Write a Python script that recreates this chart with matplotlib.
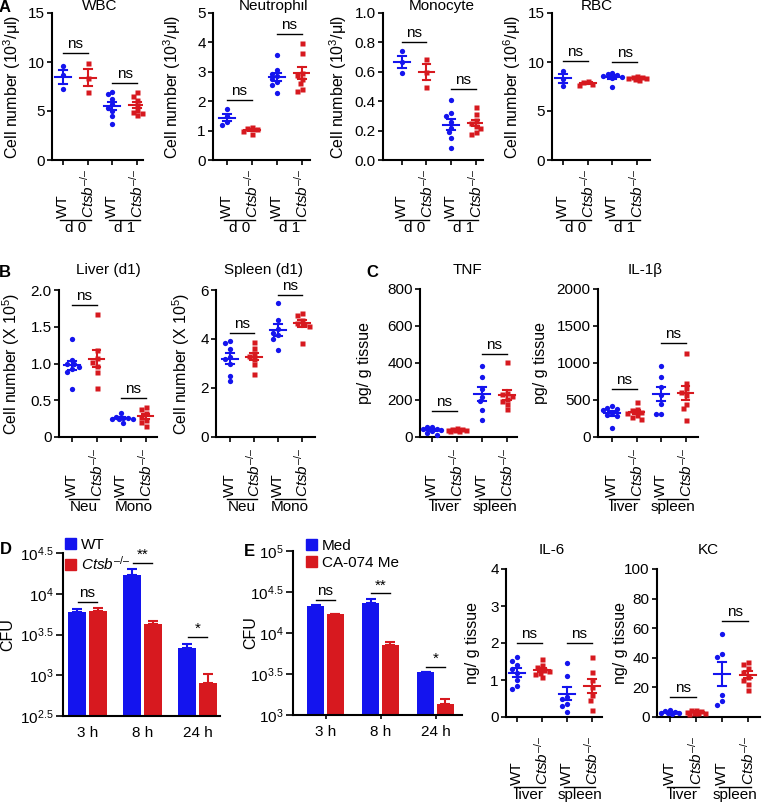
import numpy as np
import matplotlib
matplotlib.use('Agg')
import matplotlib.pyplot as plt
from matplotlib.patches import Patch

plt.rcParams['font.family'] = ['Liberation Sans', 'DejaVu Sans']
plt.rcParams['mathtext.fontset'] = 'custom'
plt.rcParams['mathtext.rm'] = 'Liberation Sans'
plt.rcParams['mathtext.it'] = 'Liberation Sans:italic'
plt.rcParams['font.size'] = 11

BLUE = '#1414ee'
RED = '#d7191f'
KO = '$\\it{Ctsb}^{–/–}$'
FS = 11

# ---- data ----
# A: blood counts (WT d0, KO d0, WT d1, KO d1)
wbc = [[9.6, 8.7, 7.2], [9.9, 8.4, 6.9],
       [6.9, 6.7, 6.2, 5.7, 5.3, 5.0, 4.5, 3.7],
       [6.9, 6.55, 6.1, 5.6, 5.1, 4.85, 4.8, 4.6]]
neutro = [[1.75, 1.5, 1.3, 1.2], [1.12, 1.08, 1.05, 1.0, 0.88],
          [3.58, 3.05, 2.94, 2.85, 2.77, 2.66, 2.55, 2.28],
          [3.98, 3.64, 2.96, 2.88, 2.77, 2.62, 2.43, 2.34]]
mono = [[0.74, 0.67, 0.59], [0.69, 0.60, 0.50],
        [0.41, 0.32, 0.30, 0.26, 0.22, 0.19, 0.15, 0.08],
        [0.36, 0.31, 0.27, 0.25, 0.23, 0.22, 0.19, 0.18]]
rbc = [[9.1, 8.3, 7.6], [8.1, 7.95, 7.8, 7.7],
       [8.9, 8.8, 8.7, 8.6, 8.5, 8.4, 7.5],
       [8.6, 8.5, 8.45, 8.4, 8.35, 8.3, 8.2]]
# B: cell numbers in liver / spleen (WT Neu, KO Neu, WT Mono, KO Mono)
liver = [[1.33, 1.05, 1.0, 0.99, 0.95, 0.93, 0.89, 0.65],
         [1.67, 1.18, 1.07, 1.02, 0.96, 0.89, 0.66],
         [0.32, 0.27, 0.26, 0.255, 0.25, 0.245, 0.24, 0.19],
         [0.41, 0.38, 0.32, 0.27, 0.23, 0.20, 0.15]]
spleen = [[3.93, 3.85, 3.6, 3.27, 3.2, 3.0, 2.48, 2.29],
          [3.89, 3.64, 3.41, 3.3, 3.2, 2.97, 2.59],
          [5.46, 4.77, 4.39, 4.23, 4.16, 4.02, 3.55],
          [5.07, 4.98, 4.77, 4.64, 4.6, 4.53, 3.85]]
# C: cytokines (WT liver, KO liver, WT spleen, KO spleen)
tnf = [[55, 52, 45, 42, 38, 30, 22, 10], [48, 45, 42, 40, 38, 36, 34, 30],
       [385, 326, 262, 217, 195, 145, 94],
       [407, 240, 230, 220, 205, 195, 180, 150]]
il1b = [[416, 398, 380, 362, 326, 294, 280, 127],
        [475, 380, 362, 340, 320, 300, 271, 249],
        [964, 814, 679, 566, 452, 317, 308],
        [1131, 724, 656, 611, 566, 452, 398, 226]]
il6 = [[1.61, 1.52, 1.40, 1.31, 1.18, 1.0, 0.83, 0.77],
       [1.56, 1.40, 1.34, 1.28, 1.25, 1.2, 1.16, 1.07],
       [1.47, 1.1, 0.54, 0.50, 0.36, 0.29, 0.14],
       [1.63, 1.22, 1.0, 0.8, 0.59, 0.47, 0.18]]
kc = [[4.5, 4, 3.5, 3, 2.5, 2.5, 2], [5, 4.5, 4, 3.5, 3, 3, 2.5, 2],
      [55.9, 42.3, 40.3, 14.7, 10.9, 8.4],
      [37.3, 35.5, 32.8, 30.5, 27.1, 24.9, 22.2, 18.1]]

# D / E: CFU bars (mean, sem)
times = ['3 h', '8 h', '24 h']
d_wt = [5900, 17000, 2190]
d_wt_sem = [550, 3000, 210]
d_ko = [6170, 4220, 794]
d_ko_sem = [590, 350, 250]
e_med = [21400, 22900, 3310]
e_med_sem = [750, 3400, 80]
e_ca = [17000, 7080, 1380]
e_ca_sem = [180, 680, 205]
d_sig = ['ns', '**', '*']
d_sig_y = [7950, 24000, 2950]
e_sig = ['ns', '**', '*']
e_sig_y = [25100, 30500, 3890]

W, H = 762, 806
fig = plt.figure(figsize=(W / 100, H / 100), dpi=100)


def px_ax(left, right, top, bottom):
    return fig.add_axes([left / W, 1 - bottom / H, (right - left) / W, (bottom - top) / H])


def style(ax):
    for s in ['top', 'right']:
        ax.spines[s].set_visible(False)
    for s in ['left', 'bottom']:
        ax.spines[s].set_linewidth(1.5)
    ax.tick_params(direction='out', width=1.2, length=3.8, pad=1.5, labelsize=FS)


def ftext(x, y, s, **kw):
    fig.text(x / W, 1 - y / H, s, **kw)


def swarm(vals, ppu_y, ppu_x, d=4.6):
    # simple deterministic beeswarm in pixel space, limited width
    vals = np.asarray(vals, float)
    order = np.argsort(-vals)
    cands = sorted(np.arange(-2.5 * d, 2.5 * d + 0.01, d / 2), key=lambda c: (abs(c), c))
    placed = []
    offs = np.zeros(len(vals))
    for i in order:
        yp = vals[i] * ppu_y
        best, best_d = 0.0, -1.0
        for c in cands:
            md = min([np.hypot(c - px, yp - py) for px, py in placed] or [99])
            if md >= d:
                best = c
                break
            if md > best_d:
                best, best_d = c, md
        placed.append((best, yp))
        offs[i] = best / ppu_x
    return offs


def dot_panel(box, tick0, step, data, ylim, yticks, ytl, ylabel, ylab_x,
              title, title_xy, sig_y, groups, gap):
    left, right, top, bottom = box
    ax = px_ax(left, right, top, bottom)
    ax.set_xlim((left - tick0) / step, (right - tick0) / step)
    ax.set_ylim(*ylim)
    style(ax)
    ax.set_yticks(yticks)
    ax.set_yticklabels(ytl)
    ax.set_xticks(range(4))
    ax.set_xticklabels([])
    ax.set_ylabel(ylabel, va='center', fontsize=11.5)
    ax.yaxis.set_label_coords((ylab_x - left) / (right - left), 0.5)
    ftext(*title_xy, title, ha='center', va='center', fontsize=FS)
    hpx = bottom - top
    ppu_y = hpx / (ylim[1] - ylim[0])
    for i, vals in enumerate(data):
        col = BLUE if i % 2 == 0 else RED
        mk = 'o' if i % 2 == 0 else 's'
        xs = i + swarm(vals, ppu_y, step)
        ax.plot(xs, vals, mk, color=col, ms=3.8 if mk == 'o' else 3.6,
                mec='none', clip_on=False, zorder=3)
        m = np.mean(vals)
        s = np.std(vals, ddof=1) / np.sqrt(len(vals))
        ax.plot([i - 0.32, i + 0.32], [m, m], color=col, lw=1.5, zorder=4)
        ax.plot([i, i], [m - s, m + s], color=col, lw=1.5, zorder=4)
        for yy in (m - s, m + s):
            ax.plot([i - 0.16, i + 0.16], [yy, yy], color=col, lw=1.5, zorder=4)
    for j, yv in enumerate(sig_y):
        x0, x1 = 2 * j, 2 * j + 1
        ax.plot([x0, x1], [yv, yv], color='black', lw=1.0, clip_on=False)
        ax.annotate('ns', xy=(x0 + 0.5, yv), xytext=(0, 2), textcoords='offset pixels',
                    ha='center', va='bottom', fontsize=FS)
    tr = ax.get_xaxis_transform()
    for i in range(4):
        lab = 'WT' if i % 2 == 0 else KO
        ax.text(i, -gap / hpx, lab, rotation=90, ha='center', va='bottom',
                transform=tr, fontsize=FS)
    for j, g in enumerate(groups):
        x0, x1 = 2 * j, 2 * j + 1
        ax.plot([x0 - 0.12, x1 + 0.12], [-(gap + 2) / hpx] * 2, color='black', lw=1.0,
                transform=tr, clip_on=False)
        ax.text(x0 + 0.5, -(gap + 3) / hpx, g, ha='center', va='top',
                transform=tr, fontsize=FS)
    return ax


# ---- Panel A ----
A_lab = 'Cell number (10$^3$/μl)'
dot_panel((52, 143, 13, 160), 63, 24.7, wbc, (0, 15), [0, 5, 10, 15], ['0', '5', '10', '15'],
          A_lab, 12, 'WBC', (100, 6), [10.9, 7.9], ['d 0', 'd 1'], 58)
dot_panel((213, 310, 13, 160), 227, 25, neutro, (0, 5), range(6), [str(i) for i in range(6)],
          A_lab, 172, 'Neutrophil', (273, 6), [2.04, 4.3], ['d 0', 'd 1'], 58)
dot_panel((383, 483, 13, 160), 402, 24.5, mono, (0, 1.0), np.arange(0, 1.01, 0.2),
          ['0.0', '0.2', '0.4', '0.6', '0.8', '1.0'],
          A_lab, 338, 'Monocyte', (442, 6), [0.80, 0.486], ['d 0', 'd 1'], 58)
dot_panel((552, 650, 13, 160), 563, 24.7, rbc, (0, 15), [0, 5, 10, 15], ['0', '5', '10', '15'],
          'Cell number (10$^6$/μl)', 512, 'RBC', (597, 6), [10.07, 10.0], ['d 0', 'd 1'], 58)

# ---- Panel B ----
B_lab = 'Cell number (X 10$^5$)'
dot_panel((59, 157, 290, 437), 72, 24.5, liver, (0, 2.0), [0, 0.5, 1.0, 1.5, 2.0],
          ['0', '0.5', '1.0', '1.5', '2.0'], B_lab, 11, 'Liver (d1)', (108, 270),
          [1.80, 0.53], ['Neu', 'Mono'], 60)
dot_panel((216, 315, 290, 437), 230, 24, spleen, (0, 6), [0, 2, 4, 6], ['0', '2', '4', '6'],
          B_lab, 181, 'Spleen (d1)', (263, 270), [4.23, 5.8], ['Neu', 'Mono'], 60)

# ---- Panel C ----
dot_panel((420, 517, 289, 437), 432, 25, tnf, (0, 800), range(0, 801, 200),
          [str(v) for v in range(0, 801, 200)], 'pg/ g tissue', 365, 'TNF', (467, 270),
          [139, 447], ['liver', 'spleen'], 60)
dot_panel((598, 698, 289, 437), 612, 24.5, il1b, (0, 2000), range(0, 2001, 500),
          [str(v) for v in range(0, 2001, 500)], 'pg/ g tissue', 540, 'IL-1β', (645, 270),
          [643, 1276], ['liver', 'spleen'], 60)
dot_panel((506, 602, 569, 717), 517, 25, il6, (0, 4), range(5), [str(v) for v in range(5)],
          'ng/ g tissue', 472, 'IL-6', (552, 550), [2.01, 2.01], ['liver', 'spleen'], 68)
dot_panel((657, 760, 569, 717), 670, 26, kc, (0, 100), range(0, 101, 20),
          [str(v) for v in range(0, 101, 20)], 'ng/ g tissue', 620, 'KC', (708, 550),
          [13.6, 65], ['liver', 'spleen'], 68)


# ---- Panels D / E ----
def bar_panel(box, c0, step, a, a_sem, b, b_sem, lo, hi, exps, ylab_x, sig, sig_y,
              names, legend_xy, xtick_len, off, bw):
    left, right, top, bottom = box
    ax = px_ax(left, right, top, bottom)
    ax.set_yscale('log')
    ax.set_xlim((left - c0) / step, (right - c0) / step)
    ax.set_ylim(10 ** lo, 10 ** hi)
    style(ax)
    x = np.arange(len(times))
    for vals, sem, col, dx in [(a, a_sem, BLUE, -off), (b, b_sem, RED, off)]:
        ax.bar(x + dx, np.array(vals) - 10 ** lo, bw, bottom=10 ** lo, color=col, zorder=2)
        ax.errorbar(x + dx, vals, yerr=[np.zeros(len(vals)), sem], fmt='none',
                    ecolor=col, elinewidth=1.5, capsize=3.5, capthick=1.5, zorder=1)
    ax.minorticks_off()
    ax.set_yticks([10 ** e for e in exps])
    ax.set_yticklabels(['$10^{%s}$' % (('%g' % e)) for e in exps])
    ax.tick_params(axis='y', length=5, pad=2)
    ax.set_xticks(x)
    ax.set_xticklabels(times)
    ax.tick_params(axis='x', length=xtick_len, pad=7 - xtick_len)
    ax.set_ylabel('CFU', va='center', fontsize=11.5)
    ax.yaxis.set_label_coords((ylab_x - left) / (right - left), 0.5)
    for i, (s, yv) in enumerate(zip(sig, sig_y)):
        ax.plot([i - 0.18, i + 0.18], [yv, yv], color='black', lw=1.0)
        ax.annotate(s, xy=(i, yv), xytext=(0, 1 if s != 'ns' else 2),
                    textcoords='offset pixels', ha='center', va='bottom', fontsize=FS)
    handles = [Patch(color=BLUE), Patch(color=RED)]
    ax.legend(handles, names, loc='upper left', bbox_to_anchor=(legend_xy[0] / W, 1 - legend_xy[1] / H),
              bbox_transform=fig.transFigure, frameon=False, borderpad=0, borderaxespad=0,
              handlelength=0.75, handleheight=0.75, handletextpad=0.3, labelspacing=0.2,
              fontsize=FS)
    return ax


bar_panel((63, 220, 553, 716), 87.5, 55, d_wt, d_wt_sem, d_ko, d_ko_sem, 2.5, 4.5,
          [2.5, 3, 3.5, 4, 4.5], 8, d_sig, d_sig_y, ['WT', KO], (65, 538), 0, 0.19, 0.32)
bar_panel((293, 462, 551, 715), 325.5, 55, e_med, e_med_sem, e_ca, e_ca_sem, 3, 5,
          [3, 3.5, 4, 4.5, 5], 251, e_sig, e_sig_y, ['Med', 'CA-074 Me'], (306, 539), 3, 0.18, 0.31)

# panel letters
for lab, (xp, yp) in {'A': (5, 8), 'B': (5, 273), 'C': (372, 273), 'D': (6, 550), 'E': (249, 551)}.items():
    ftext(xp, yp, lab, ha='center', va='center', fontsize=12, fontweight='bold')

fig.savefig('out.png', dpi=100)
